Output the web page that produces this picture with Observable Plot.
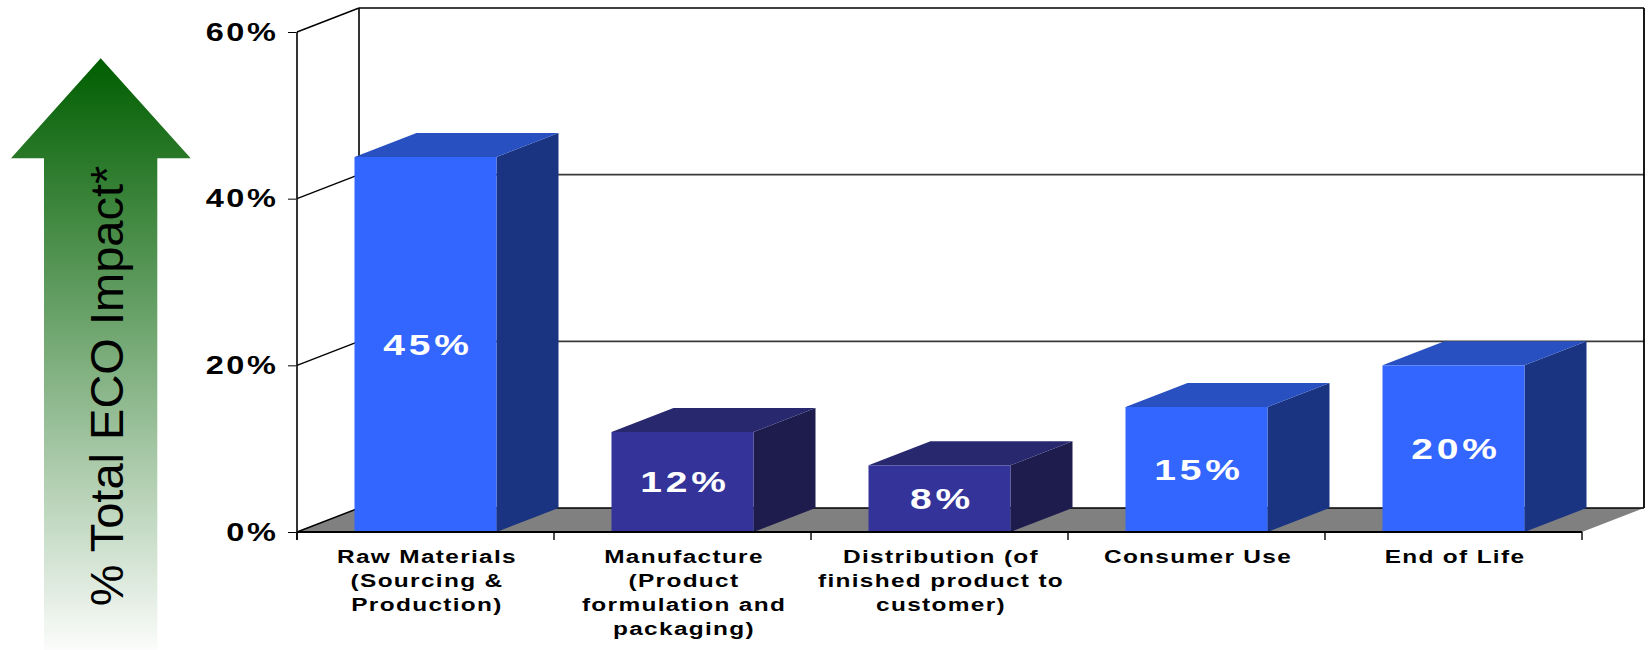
<!DOCTYPE html>
<html>
<head>
<meta charset="utf-8">
<script src="https://cdn.jsdelivr.net/npm/d3@7"></script>
<script src="https://cdn.jsdelivr.net/npm/@observablehq/plot@0.6"></script>
<style>
  html, body { margin: 0; padding: 0; background: #ffffff; }
  #chart { position: absolute; left: 0; top: 0; }
</style>
</head>
<body>
<div id="chart"></div>
<script>
// ---------- data ----------
const categories = [
  "Raw Materials\n(Sourcing &\nProduction)",
  "Manufacture\n(Product\nformulation and\npackaging)",
  "Distribution (of\nfinished product to\ncustomer)",
  "Consumer Use",
  "End of Life"
];
const values = [45, 12, 8, 15, 20];
const barGroup = ["blue", "purple", "purple", "blue", "blue"];
const yTicks = [0, 20, 40, 60];
const axisTitle = "% Total ECO Impact*";

// ---------- style ----------
const palette = {
  blue:   { front: "#3366ff", top: "#2850c0", side: "#1b3482" },
  purple: { front: "#333399", top: "#28286e", side: "#1d1c4c" }
};
const DX = 62, DY = -24;     // 3-D depth offset (pixels)
const INSET = 57.5;          // gap between bar front face and band edges
const W = 1651, H = 650;
const FONT = "'Liberation Sans', Arial, sans-serif";
// extended look of the original typeface: horizontal stretch + letter spacing, by font size
const stretchBySize = {
  "30": { s: 1.3, ls: 3 },
  "25": { s: 1.3, ls: 2 },
  "18.5": { s: 1.32, ls: 1 }
};

const data = categories.map((c, i) => ({ cat: c, value: values[i], group: barGroup[i] }));

// back wall, floor, left wall, grid lines
function walls(index, scales) {
  const x = scales.x, y = scales.y;
  const g = d3.create("svg:g");
  const x0 = x(categories[0]);
  const x1 = x(categories[categories.length - 1]) + x.bandwidth();
  const [d0, d1] = y.domain();
  const yb = y(d0), yt = y(d1);
  g.append("rect")
    .attr("x", x0 + DX).attr("y", yt + DY)
    .attr("width", x1 - x0).attr("height", yb - yt)
    .attr("fill", "#ffffff");
  g.append("polygon")
    .attr("points", [[x0, yb], [x1, yb], [x1 + DX, yb + DY], [x0 + DX, yb + DY]].join(" "))
    .attr("fill", "#808080");
  for (const v of yTicks) {
    const yy = y(v);
    const inner = v !== d0 && v !== d1;
    g.append("line")
      .attr("x1", x0 + DX).attr("x2", x1 + DX)
      .attr("y1", yy + DY).attr("y2", yy + DY)
      .attr("stroke", inner ? "#3a3a3a" : "#000").attr("stroke-width", 1.6);
    g.append("line")
      .attr("x1", x0).attr("x2", x0 + DX)
      .attr("y1", yy).attr("y2", yy + DY)
      .attr("stroke", "#000").attr("stroke-width", 1.4);
  }
  g.append("line").attr("x1", x0 + DX).attr("x2", x0 + DX)
    .attr("y1", yt + DY).attr("y2", yb + DY).attr("stroke", "#000").attr("stroke-width", 1.6);
  g.append("line").attr("x1", x1 + DX).attr("x2", x1 + DX)
    .attr("y1", yt + DY).attr("y2", yb + DY).attr("stroke", "#000").attr("stroke-width", 1.8);
  return g.node();
}

// top and side faces of the 3-D bars
function faces(index, scales) {
  const x = scales.x, y = scales.y;
  const g = d3.create("svg:g");
  for (const d of data) {
    const xl = x(d.cat) + INSET;
    const xr = x(d.cat) + x.bandwidth() - INSET;
    const yt = y(d.value), yb = y(0);
    const c = palette[d.group];
    g.append("polygon")
      .attr("points", [[xr, yt], [xr + DX, yt + DY], [xr + DX, yb + DY], [xr, yb]].join(" "))
      .attr("fill", c.side);
    g.append("polygon")
      .attr("points", [[xl, yt], [xr, yt], [xr + DX, yt + DY], [xl + DX, yt + DY]].join(" "))
      .attr("fill", c.top);
  }
  return g.node();
}

// front axis lines and ticks at band boundaries
function frontAxes(index, scales) {
  const x = scales.x, y = scales.y;
  const g = d3.create("svg:g");
  const x0 = x(categories[0]);
  const x1 = x(categories[categories.length - 1]) + x.bandwidth();
  const [d0, d1] = y.domain();
  const yb = y(d0), yt = y(d1);
  g.append("line").attr("x1", x0).attr("x2", x0).attr("y1", yt).attr("y2", yb + 8)
    .attr("stroke", "#000").attr("stroke-width", 1.6);
  g.append("line").attr("x1", x0).attr("x2", x1).attr("y1", yb).attr("y2", yb)
    .attr("stroke", "#000").attr("stroke-width", 1.8);
  const bounds = categories.map(c => x(c)).concat([x1]);
  for (const bx of bounds) {
    g.append("line").attr("x1", bx).attr("x2", bx).attr("y1", yb).attr("y2", yb + 8)
      .attr("stroke", "#000").attr("stroke-width", 1.4);
  }
  return g.node();
}

// green arrow with vertical title
function arrow() {
  const g = d3.create("svg:g");
  const defs = g.append("defs");
  const grad = defs.append("linearGradient")
    .attr("id", "ecoGrad").attr("x1", 0).attr("y1", 0).attr("x2", 0).attr("y2", 1);
  grad.append("stop").attr("offset", "0%").attr("stop-color", "#005e00");
  grad.append("stop").attr("offset", "45%").attr("stop-color", "#6da46d");
  grad.append("stop").attr("offset", "100%").attr("stop-color", "#fbfcfb");
  g.append("polygon")
    .attr("points", [[100.7, 58.3], [190.7, 158.3], [157.3, 158.3], [157.3, 650],
                     [44, 650], [44, 158.3], [11, 158.3]].join(" "))
    .attr("fill", "url(#ecoGrad)");
  g.append("text")
    .attr("class", "eco-title")
    .attr("transform", "translate(123,386) rotate(-90)")
    .attr("text-anchor", "middle")
    .attr("font-family", FONT)
    .attr("font-size", 47)
    .attr("fill", "#000")
    .text(axisTitle);
  return g.node();
}

const chart = Plot.plot({
  width: W,
  height: H,
  marginLeft: 296,
  marginRight: W - 296 - 5 * 257.5,
  marginTop: 32,
  marginBottom: 118,
  style: { fontFamily: FONT, background: "#ffffff", overflow: "visible" },
  x: { type: "band", domain: categories, padding: 0, axis: null },
  y: { domain: [0, 60], axis: null },
  color: { type: "identity" },
  marks: [
    walls,
    faces,
    Plot.barY(data, {
      x: "cat", y: "value",
      fill: d => palette[d.group].front,
      insetLeft: INSET, insetRight: INSET
    }),
    frontAxes,
    Plot.text(data, {
      x: "cat", y: d => d.value / 2,
      text: d => d.value + "%",
      fill: "#ffffff", fontSize: 30, fontWeight: "bold",
      fontFamily: FONT, dx: 2
    }),
    Plot.axisY(yTicks, {
      label: null,
      tickFormat: d => d + "%",
      tickSize: 8, tickPadding: 10,
      fontSize: 25, fontWeight: "bold",
      fontFamily: FONT,
      stroke: "#000", fill: "#000"
    }),
    Plot.text(data, {
      x: "cat", frameAnchor: "bottom", text: "cat",
      lineAnchor: "top", lineHeight: 1.3, dy: 13.5, dx: 1,
      fontSize: 18.5, fontWeight: "bold", fill: "#000",
      fontFamily: FONT
    }),
    arrow
  ]
});

document.getElementById("chart").appendChild(chart);
d3.select(chart).selectAll("text").each(function () {
  if (this.classList.contains("eco-title")) return;
  const holder = this.closest("[font-size]");
  const size = holder ? String(parseFloat(holder.getAttribute("font-size"))) : null;
  const st = size && stretchBySize[size];
  if (!st) return;
  this.style.letterSpacing = st.ls + "px";
  const t = this.getAttribute("transform") || "";
  const X = parseFloat(this.getAttribute("x")) || 0;
  this.setAttribute("transform",
    `${t} translate(${X},0) scale(${st.s},1) translate(${-X},0)`);
});
</script>
</body>
</html>
